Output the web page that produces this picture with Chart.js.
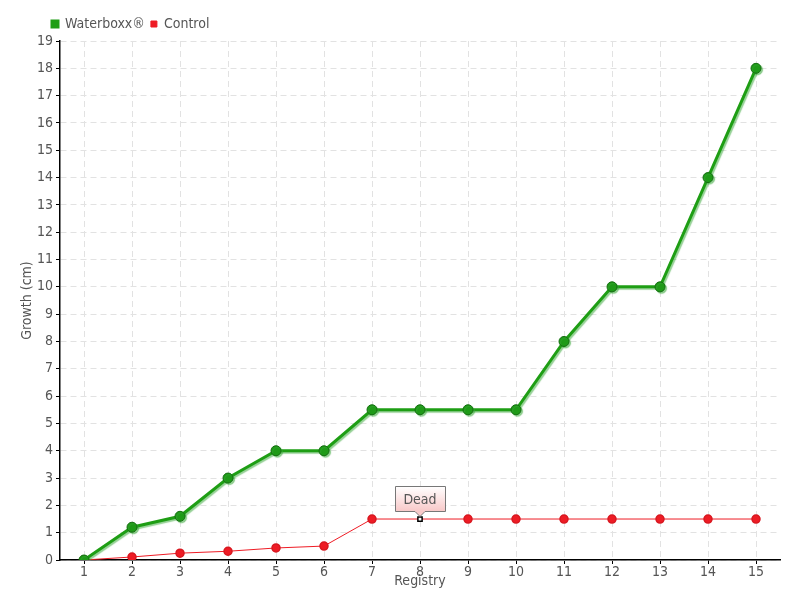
<!DOCTYPE html>
<html>
<head>
<meta charset="utf-8">
<script src="https://cdn.jsdelivr.net/npm/chart.js@4/dist/chart.umd.min.js"></script>
<style>
  html, body { margin: 0; padding: 0; background: #fff; }
  #wrap { width: 800px; height: 600px; }
</style>
</head>
<body>
<div id="wrap"><canvas id="growthChart" width="800" height="600"></canvas></div>
<script>
// data
const registry = ["1", "2", "3", "4", "5", "6", "7", "8", "9", "10", "11", "12", "13", "14", "15"];
const waterboxx = [0, 1.2, 1.6, 3, 4, 4, 5.5, 5.5, 5.5, 5.5, 8, 10, 10, 14, 18];
const control = [0, 0.11, 0.25, 0.32, 0.44, 0.51, 1.5, 1.5, 1.5, 1.5, 1.5, 1.5, 1.5, 1.5, 1.5];
const yTicks = [0, 1, 2, 3, 4, 5, 6, 7, 8, 9, 10, 11, 12, 13, 14, 15, 16, 17, 18, 19];
const deadIndex = 7;
const deadLabel = "Dead";

const font = "'DejaVu Sans', sans-serif";
const fontWeight = "normal condensed";
const textGrey = "#555";

// control point styles: the dead one is a small white square
const ctrlStyle = control.map((v, i) => i === deadIndex ? "rect" : "circle");
const ctrlBg = control.map((v, i) => i === deadIndex ? "#fff" : "#ee1c25");
const ctrlBorder = control.map((v, i) => i === deadIndex ? "#000" : "#d81820");
const ctrlRadius = control.map((v, i) => i === deadIndex ? 3 : 4);

// soft shadow under the green line
const shadowPlugin = {
  id: "lineShadow",
  beforeDatasetDraw(chart, args) {
    if (args.index !== 0) return;
    const ctx = chart.ctx;
    ctx.save();
    ctx.shadowColor = "rgba(60,170,60,0.55)";
    ctx.shadowOffsetX = 1.5;
    ctx.shadowOffsetY = 1.5;
    ctx.shadowBlur = 1;
  },
  afterDatasetDraw(chart, args) {
    if (args.index !== 0) return;
    chart.ctx.restore();
  }
};

// push the legend right so it starts above the y axis
const legendShift = {
  id: "legendShift",
  afterLayout(chart) {
    if (chart.legend) chart.legend.left = 46;
  }
};

// "Dead" callout above the control point
const calloutPlugin = {
  id: "deadCallout",
  afterDatasetsDraw(chart) {
    const ctx = chart.ctx;
    const x = chart.scales.x.getPixelForValue(deadIndex);
    const y = chart.scales.y.getPixelForValue(control[deadIndex]);
    const w = 50, h = 25;
    const left = Math.round(x - w / 2) + 0.5, bottom = Math.round(y - 8) + 0.5, top = bottom - h;
    ctx.save();
    const g = ctx.createLinearGradient(0, top, 0, bottom);
    g.addColorStop(0, "#ffffff");
    g.addColorStop(1, "#f8c8c8");
    ctx.beginPath();
    ctx.moveTo(left, top);
    ctx.lineTo(left + w, top);
    ctx.lineTo(left + w, bottom);
    ctx.lineTo(x + 5, bottom);
    ctx.lineTo(x, bottom + 5);
    ctx.lineTo(x - 5, bottom);
    ctx.lineTo(left, bottom);
    ctx.closePath();
    ctx.fillStyle = g;
    ctx.fill();
    ctx.strokeStyle = "#777";
    ctx.lineWidth = 1;
    ctx.stroke();
    ctx.fillStyle = textGrey;
    ctx.font = fontWeight + " 14px " + font;
    ctx.textAlign = "center";
    ctx.textBaseline = "middle";
    ctx.fillText(deadLabel, x, top + h / 2 + 1);
    ctx.restore();
  }
};

const textFont = { family: font, size: 14, weight: fontWeight };

new Chart(document.getElementById("growthChart"), {
  type: "line",
  data: {
    labels: registry,
    datasets: [{
      label: "Waterboxx®",
      data: waterboxx,
      borderColor: "#1e9e14",
      backgroundColor: "#1e9e14",
      borderWidth: 3,
      pointRadius: 5,
      pointBackgroundColor: "#1f9a18",
      pointBorderColor: "#146e10",
      pointBorderWidth: 1,
      tension: 0
    }, {
      label: "Control",
      data: control,
      borderColor: "#ee1c25",
      backgroundColor: "#ee1c25",
      borderWidth: 1,
      pointStyle: ctrlStyle,
      pointRadius: ctrlRadius,
      pointBackgroundColor: ctrlBg,
      pointBorderColor: ctrlBorder,
      pointBorderWidth: 1.5,
      tension: 0
    }]
  },
  options: {
    responsive: false,
    animation: false,
    layout: { padding: { left: 0, right: 20, top: 11, bottom: 0 } },
    plugins: {
      legend: {
        position: "top",
        align: "start",
        labels: {
          boxWidth: 6,
          boxHeight: 6,
          padding: 6,
          color: textGrey,
          font: textFont
        }
      },
      tooltip: { enabled: false }
    },
    scales: {
      x: {
        offset: true,
        title: {
          display: true,
          text: "Registry",
          color: textGrey,
          padding: { top: 0, bottom: 10 },
          font: textFont
        },
        ticks: { color: textGrey, padding: 0, font: textFont },
        grid: {
          color: "#e2e2e2",
          tickBorderDash: [],
          tickColor: "#000",
          tickLength: 4,
          offset: false
        },
        border: { color: "#000", width: 1.5, dash: [6, 4] },
        afterFit(scale) { scale.height = 40; }
      },
      y: {
        min: 0,
        max: 19,
        afterBuildTicks(scale) { scale.ticks = yTicks.map(v => ({ value: v })); },
        title: {
          display: true,
          text: "Growth (cm)",
          color: textGrey,
          padding: { top: 19, bottom: 0 },
          font: textFont
        },
        ticks: { color: textGrey, padding: 3, font: textFont },
        grid: {
          color: "#e2e2e2",
          tickBorderDash: [],
          tickColor: "#000",
          tickLength: 4
        },
        border: { color: "#000", width: 1.5, dash: [6, 4] },
        afterFit(scale) { scale.width = 60; }
      }
    }
  },
  plugins: [shadowPlugin, legendShift, calloutPlugin]
});
</script>
</body>
</html>
